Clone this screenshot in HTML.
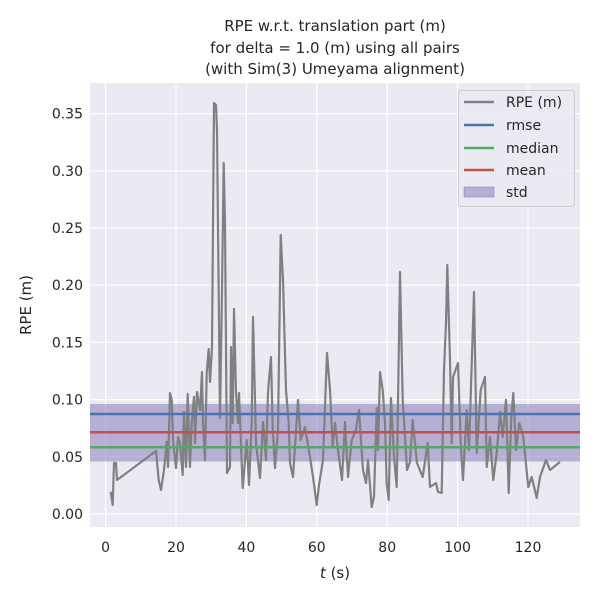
<!DOCTYPE html>
<html><head><style>body{margin:0;background:#fff}</style></head><body>
<svg width="600" height="600" xmlns="http://www.w3.org/2000/svg" font-family="'DejaVu Sans', 'Liberation Sans', sans-serif">
<rect x="90" y="83" width="490" height="444" fill="#eaeaf2"/>
<g stroke="#fff" stroke-width="1.2">
<line x1="105.6" y1="83" x2="105.6" y2="527"/><line x1="176" y1="83" x2="176" y2="527"/><line x1="246.4" y1="83" x2="246.4" y2="527"/><line x1="316.8" y1="83" x2="316.8" y2="527"/><line x1="387.2" y1="83" x2="387.2" y2="527"/><line x1="457.6" y1="83" x2="457.6" y2="527"/><line x1="528" y1="83" x2="528" y2="527"/>
<line x1="90" y1="514" x2="580" y2="514"/><line x1="90" y1="456.8" x2="580" y2="456.8"/><line x1="90" y1="399.6" x2="580" y2="399.6"/><line x1="90" y1="342.4" x2="580" y2="342.4"/><line x1="90" y1="285.2" x2="580" y2="285.2"/><line x1="90" y1="228" x2="580" y2="228"/><line x1="90" y1="170.8" x2="580" y2="170.8"/><line x1="90" y1="113.6" x2="580" y2="113.6"/>
</g>
<rect x="90" y="404" width="490" height="57.5" fill="#8172b3" fill-opacity="0.5"/>
<polyline fill="none" stroke="#808080" stroke-width="2.2" stroke-linejoin="round" points="110.7,491.7 112.7,505 114,463 116,463 117,480 156,451 158.7,480 161,490 164,470 166.7,441.7 168,467 170,393 171.7,400 173,440 176,468 178,437 180,443 182.7,475 184,412 186,467 187.7,394 190,467 191.7,423 194,397 195,443 197,392 200,410 202,372 203,423 205,460 206.7,373 208.7,349 210,382 212,347 214,103 216,105 217,130 220,418 222,290 223.7,163 225,223 227,473 230,467 231,347 232.7,423 234,309 236,393 238,423 239,393 242.7,488 246.7,440 249,485 251.7,423 253,317 256,443 260,478 263,422 266,460 268,392 271,357 272.7,428 275,468 278,430 280.7,235 283,280 286,390 288.7,423 290,463 293,477 296.7,420 298,400 300.7,440 305,427 310,457 313,477 316.7,505 319,485 323,460 327,353 330,390 332.7,447 335,423 338,450 342,480 345,422 348,477 351.7,440 356,430 359,410 363,470 366,483 368,460 371.7,507 374,497 376.7,408 378,450 380,372 382.7,390 385,423 386.7,483 388.7,500 391,398 394,457 396.7,487 400,272 402.7,400 405,437 407,470 410,462 412.7,420 417,463 422.7,477 427.7,443 430,487 436,483 438,492 441.7,493 444,370 446,323 447.3,265 450,360 451.7,443 453,377 458,363 460.7,443 463,480 466.7,410 469,450 474,292 476.7,453 480.7,390 485,377 486.7,467 490,437 493.3,480 496.7,453 500,412 502.7,437 506,400 508.7,493 511.3,417 513.3,393 516,450 519.3,423 523.3,437 528.3,487 531.7,477 536.7,498 540,477 546,460 550,470 560,462"/>
<line x1="90" y1="414" x2="580" y2="414" stroke="#4c72b0" stroke-width="2.5"/>
<line x1="90" y1="432.3" x2="580" y2="432.3" stroke="#c44e52" stroke-width="2.5"/>
<line x1="90" y1="447.3" x2="580" y2="447.3" stroke="#55a868" stroke-width="2.5"/>
<g font-size="14" fill="#262626" text-anchor="end">
<text x="83" y="519">0.00</text><text x="83" y="461.8">0.05</text><text x="83" y="404.6">0.10</text><text x="83" y="347.4">0.15</text><text x="83" y="290.2">0.20</text><text x="83" y="233">0.25</text><text x="83" y="175.8">0.30</text><text x="83" y="118.6">0.35</text>
</g>
<g font-size="14" fill="#262626" text-anchor="middle">
<text x="105.6" y="552">0</text><text x="176" y="552">20</text><text x="246.4" y="552">40</text><text x="316.8" y="552">60</text><text x="387.2" y="552">80</text><text x="457.6" y="552">100</text><text x="528" y="552">120</text>
<text x="335" y="578" font-size="15"><tspan font-style="italic">t</tspan> (s)</text>
<text x="335" y="31" font-size="15">RPE w.r.t. translation part (m)</text>
<text x="335" y="53" font-size="15">for delta = 1.0 (m) using all pairs</text>
<text x="335" y="74" font-size="15">(with Sim(3) Umeyama alignment)</text>
<text transform="translate(31,305) rotate(-90)" font-size="15">RPE (m)</text>
</g>
<rect x="458.5" y="90.5" width="116" height="116" rx="3" fill="#eaeaf2" fill-opacity="0.8" stroke="#ccc"/>
<g stroke-width="2.5">
<line x1="464" y1="102" x2="494" y2="102" stroke="#808080"/>
<line x1="464" y1="125" x2="494" y2="125" stroke="#4c72b0"/>
<line x1="464" y1="148" x2="494" y2="148" stroke="#55a868"/>
<line x1="464" y1="170" x2="494" y2="170" stroke="#c44e52"/>
</g>
<rect x="464" y="187" width="30" height="10" fill="#8172b3" fill-opacity="0.5" stroke="#8172b3" stroke-opacity="0.5"/>
<g font-size="14" fill="#262626">
<text x="506" y="107">RPE (m)</text><text x="506" y="130">rmse</text><text x="506" y="153">median</text><text x="506" y="175">mean</text><text x="506" y="197">std</text>
</g>
</svg>
</body></html>
